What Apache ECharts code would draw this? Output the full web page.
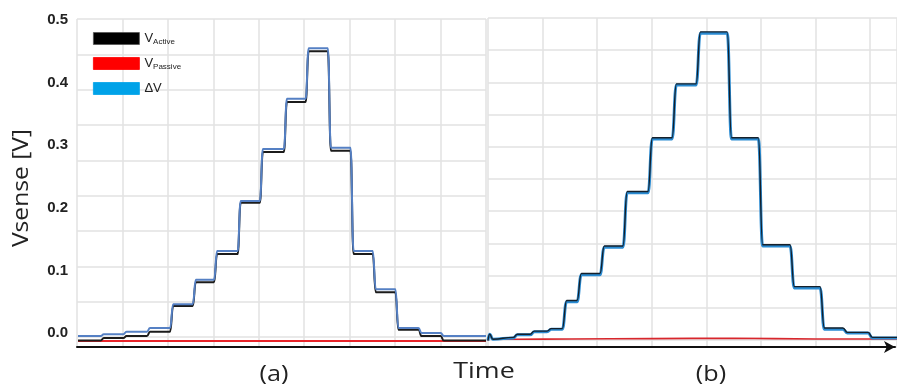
<!DOCTYPE html>
<html>
<head>
<meta charset="utf-8">
<script src="https://cdn.jsdelivr.net/npm/echarts@6/dist/echarts.min.js"></script>
<style>
  html, body { margin: 0; padding: 0; background: #ffffff; }
  #chart { width: 897px; height: 385px; }
</style>
</head>
<body>
<div id="chart"></div>
<script>
// Vertical scale (V) and its labelled ticks
const yMin = -0.0224;
const yMax = 0.5;
const yTicks = [0, 0.1, 0.2, 0.3, 0.4, 0.5];

// Panel (a): time axis in grid divisions
const xRangeA = [0, 9];
const stepTimesA = [0.5, 1.0, 1.52, 2.03, 2.53, 3.0, 3.52, 4.01, 4.54, 5.02, 5.51, 6.01, 6.5, 7.0, 7.51, 8.0];
const activeLevelsA = [-0.012, -0.008, -0.005, 0.002, 0.043, 0.081, 0.126, 0.208, 0.289, 0.369, 0.450, 0.291, 0.126, 0.065, 0.005, -0.005, -0.012];
const deltaLevelsA = [-0.005, -0.002, 0.002, 0.008, 0.046, 0.085, 0.131, 0.211, 0.294, 0.374, 0.455, 0.296, 0.131, 0.070, 0.008, 0.000, -0.005];
const passiveA = [[0, -0.013], [3, -0.013], [6, -0.013], [9, -0.013]];
const riseA = 0.07;

// Panel (b): time axis in grid divisions
const xRangeB = [0, 7.49];
const leadInB = [[0, -0.012], [0.03, -0.002], [0.09, -0.010]];
const stepTimesB = [0.46, 0.77, 1.08, 1.36, 1.63, 2.05, 2.47, 2.93, 3.37, 3.81, 4.38, 4.95, 5.53, 6.08, 6.50, 6.96];
const deltaLevelsB = [-0.008, -0.003, 0.002, 0.006, 0.050, 0.093, 0.137, 0.224, 0.310, 0.396, 0.479, 0.310, 0.139, 0.072, 0.006, 0.000, -0.008];
const activeLevelsB = [-0.007, -0.002, 0.003, 0.007, 0.052, 0.095, 0.139, 0.226, 0.312, 0.398, 0.481, 0.312, 0.141, 0.074, 0.008, 0.001, -0.007];
const passiveB = [[0, -0.012], [0.03, -0.004], [0.09, -0.010], [0.5, -0.010], [1.5, -0.0095], [3.0, -0.009], [4.5, -0.0085], [6.0, -0.0095], [7.49, -0.0095]];
const riseB = 0.08;

// Legend entries
const legendNames = ['V_Active', 'V_Passive', 'ΔV'];
const legendColors = ['#000000', '#ff0000', '#00a2e8'];

// Turn step times + plateau levels into a polyline with a short rise at each step
function stepLine(times, levels, rise, lead, xEnd) {
  const pts = lead.slice();
  times.forEach((t, i) => {
    pts.push([t, levels[i]]);
    pts.push([t + rise, levels[i + 1]]);
  });
  pts.push([xEnd, levels[levels.length - 1]]);
  return pts;
}

const activeA = stepLine(stepTimesA, activeLevelsA, riseA, [[xRangeA[0], activeLevelsA[0]]], xRangeA[1]);
const deltaA = stepLine(stepTimesA, deltaLevelsA, riseA, [[xRangeA[0], deltaLevelsA[0]]], xRangeA[1]);
const activeB = stepLine(stepTimesB, activeLevelsB, riseB, leadInB, xRangeB[1]);
const deltaB = stepLine(stepTimesB, deltaLevelsB, riseB, leadInB, xRangeB[1]);

const chart = echarts.init(document.getElementById('chart'), null, { renderer: 'canvas' });

const gridColor = '#e2e2e2';
const labelFont = '"Open Sans", "Noto Sans", sans-serif';

function bgAxis(max, inverse) {
  return {
    type: 'value', min: 0, max: max, interval: 1, inverse: !!inverse,
    axisLine: { show: false }, axisTick: { show: false }, axisLabel: { show: false },
    splitLine: { show: true, lineStyle: { color: gridColor, width: 1.5 } }
  };
}

const legendText = {
  'V_Active': '{m|V}{s|Active}',
  'V_Passive': '{m|V}{s|Passive}',
  'ΔV': '{m|ΔV}'
};

const option = {
  backgroundColor: '#ffffff',
  animation: false,
  grid: [
    { left: 78, top: 20, width: 408, height: 327 },   // (a) data
    { left: 488, top: 20, width: 409, height: 327 },  // (b) data
    { left: 77, top: 19, width: 409, height: 328 },   // (a) grid lines
    { left: 488, top: 18, width: 409, height: 329 },  // (b) grid lines
    { left: 77, top: 20, width: 818, height: 327 }    // shared time axis
  ],
  xAxis: [
    { gridIndex: 0, type: 'value', min: xRangeA[0], max: xRangeA[1], show: false },
    { gridIndex: 1, type: 'value', min: xRangeB[0], max: xRangeB[1], show: false },
    Object.assign({ gridIndex: 2 }, bgAxis(9)),
    Object.assign({ gridIndex: 3 }, bgAxis(7.49)),
    {
      gridIndex: 4, type: 'value', min: 0, max: 1,
      axisLine: { show: true, symbol: ['none', 'arrow'], symbolSize: [9, 11],
                  lineStyle: { color: '#111111', width: 2 } },
      axisTick: { show: false }, axisLabel: { show: false }, splitLine: { show: false }
    }
  ],
  yAxis: [
    {
      gridIndex: 0, type: 'value', min: yMin, max: yMax,
      axisLine: { show: false }, axisTick: { show: false }, splitLine: { show: false },
      axisLabel: {
        customValues: yTicks,
        margin: 10,
        formatter: v => v.toFixed(1),
        color: '#222222', fontWeight: 'bold', fontSize: 15,
        fontFamily: '"Liberation Sans Narrow", "Liberation Sans", Arial, sans-serif'
      }
    },
    { gridIndex: 1, type: 'value', min: yMin, max: yMax, show: false },
    Object.assign({ gridIndex: 2 }, bgAxis(328 / 35.33, true)),
    Object.assign({ gridIndex: 3 }, bgAxis(329 / 32.2, true)),
    { gridIndex: 4, type: 'value', min: 0, max: 1, show: false }
  ],
  legend: {
    left: 93, top: 32, padding: 0, orient: 'vertical',
    itemWidth: 46, itemHeight: 12, itemGap: 11, icon: 'rect',
    data: legendNames.map((n, i) => ({
      name: n,
      itemStyle: { color: legendColors[i], borderColor: i === 0 ? '#555555' : legendColors[i], borderWidth: 0.8 }
    })),
    formatter: n => legendText[n],
    textStyle: {
      color: '#222222', fontFamily: '"Liberation Sans", Arial, sans-serif',
      rich: {
        m: { fontSize: 13, lineHeight: 12, color: '#222222' },
        s: { fontSize: 8, padding: [7, 0, 0, 0], color: '#222222' }
      }
    },
    selectedMode: false
  },
  series: [
    // panel (a)
    { name: 'V_Passive', type: 'line', xAxisIndex: 0, yAxisIndex: 0, data: passiveA, showSymbol: false,
      itemStyle: { color: '#ff0000' }, lineStyle: { color: '#e8252b', width: 2 }, z: 3 },
    { name: 'V_Active', type: 'line', xAxisIndex: 0, yAxisIndex: 0, data: activeA, showSymbol: false,
      smooth: 0.5, smoothMonotone: 'x',
      itemStyle: { color: '#000000' }, lineStyle: { color: '#1b1b1b', width: 2 }, z: 4 },
    { name: 'ΔV', type: 'line', xAxisIndex: 0, yAxisIndex: 0, data: deltaA, showSymbol: false,
      smooth: 0.5, smoothMonotone: 'x',
      itemStyle: { color: '#00a2e8' }, lineStyle: { color: '#5580c4', width: 2 }, z: 5 },
    // panel (b)
    { name: 'V_Passive', type: 'line', xAxisIndex: 1, yAxisIndex: 1, data: passiveB, showSymbol: false,
      smooth: 0.3,
      itemStyle: { color: '#ff0000' }, lineStyle: { color: '#d8262c', width: 1.6 }, z: 3 },
    { name: 'ΔV', type: 'line', xAxisIndex: 1, yAxisIndex: 1, data: deltaB, showSymbol: false,
      smooth: 0.5, smoothMonotone: 'x',
      itemStyle: { color: '#00a2e8' }, lineStyle: { color: '#2a8bd2', width: 3 }, z: 4 },
    { name: 'V_Active', type: 'line', xAxisIndex: 1, yAxisIndex: 1, data: activeB, showSymbol: false,
      smooth: 0.5, smoothMonotone: 'x',
      itemStyle: { color: '#000000' }, lineStyle: { color: '#15202b', width: 1.4 }, z: 5 }
  ],
  graphic: [
    { type: 'text', x: 22, y: 188, rotation: Math.PI / 2, scaleX: 1.12,
      style: { text: 'Vsense [V]', fill: '#222222', fontSize: 22, fontFamily: labelFont,
               textAlign: 'center', textVerticalAlign: 'middle' } },
    { type: 'text', x: 274, y: 375, scaleX: 1.2,
      style: { text: '(a)', fill: '#222222', fontSize: 21, fontFamily: labelFont,
               textAlign: 'center', textVerticalAlign: 'middle' } },
    { type: 'text', x: 484, y: 372, scaleX: 1.22,
      style: { text: 'Time', fill: '#222222', fontSize: 22, fontFamily: labelFont,
               textAlign: 'center', textVerticalAlign: 'middle' } },
    { type: 'text', x: 711, y: 375, scaleX: 1.2,
      style: { text: '(b)', fill: '#222222', fontSize: 21, fontFamily: labelFont,
               textAlign: 'center', textVerticalAlign: 'middle' } }
  ]
};

chart.setOption(option);
</script>
</body>
</html>
